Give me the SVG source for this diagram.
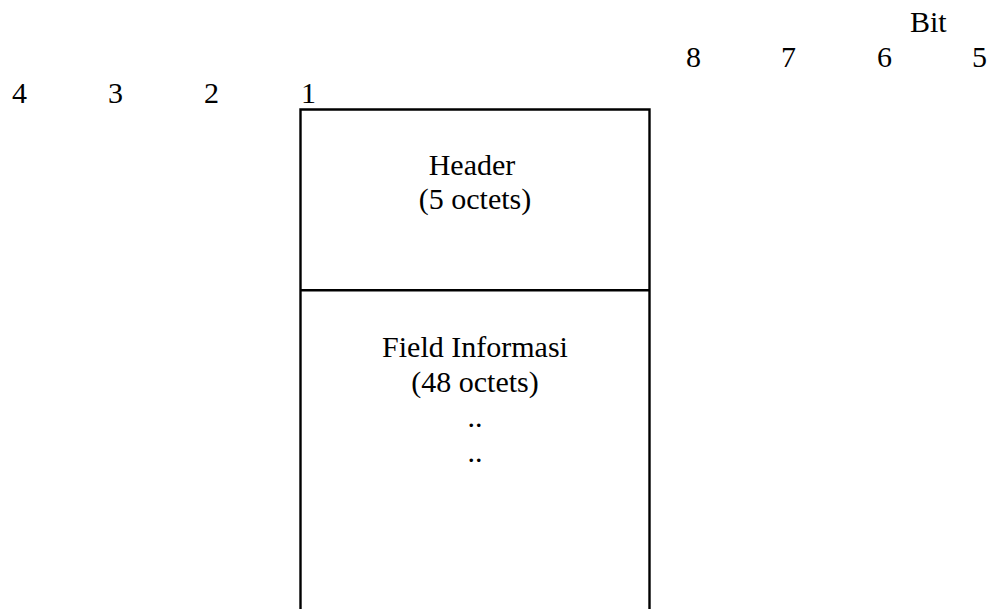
<svg xmlns="http://www.w3.org/2000/svg" width="996" height="609" viewBox="0 0 996 609">
<style>
.t{font-family:'Liberation Serif','Times New Roman',Times,serif;font-size:30px;fill:#000}
.c{text-anchor:middle}
.ln{stroke:#000;stroke-width:2.4;fill:none}
</style>
<rect width="996" height="609" fill="#fff"/>
<g id="bit-labels" class="t">
<text x="910" y="32">Bit</text>
<text x="686" y="67">8</text>
<text x="781" y="67">7</text>
<text x="877" y="67">6</text>
<text x="972" y="67">5</text>
<text x="12" y="103">4</text>
<text x="108" y="103">3</text>
<text x="204" y="103">2</text>
<text x="301" y="103">1</text>
</g>
<g id="frame">
<path class="ln" d="M300.5,609 V109.5 H649.5 V609"/>
</g>
<g id="header" class="t">
<line class="ln" x1="300.5" y1="290.3" x2="649.5" y2="290.3"/>
<text class="c" x="472" y="175">Header</text>
<text class="c" x="475" y="209">(5 octets)</text>
</g>
<g id="field-informasi" class="t">
<text class="c" x="475" y="357">Field Informasi</text>
<text class="c" x="475" y="392">(48 octets)</text>
<text class="c" x="475" y="427">..</text>
<text class="c" x="475" y="462">..</text>
</g>
</svg>
